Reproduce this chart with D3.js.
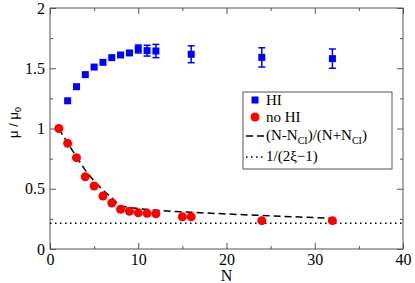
<!DOCTYPE html>
<html>
<head>
<meta charset="utf-8">
<script src="https://cdn.jsdelivr.net/npm/d3@7"></script>
<style>
  body { margin: 0; background: #fff; }
</style>
</head>
<body>
<div id="chart"></div>
<script>
// HI data (blue squares) with error bars
var hiN   = [2, 3, 4, 5, 6, 7, 8, 9, 10, 11, 12, 16, 24, 32];
var hiMu  = [1.23, 1.347, 1.447, 1.51, 1.549, 1.588, 1.61, 1.627, 1.66, 1.646, 1.643, 1.616, 1.59, 1.58];
var hiErr = [0, 0, 0, 0, 0, 0, 0.01, 0.015, 0.033, 0.045, 0.055, 0.07, 0.08, 0.08];

// no HI data (red circles)
var noN  = [1, 2, 3, 4, 5, 6, 7, 8, 9, 10, 11, 12, 15, 16, 24, 32];
var noMu = [1.0, 0.877, 0.758, 0.60, 0.523, 0.44, 0.382, 0.33, 0.313, 0.30, 0.296, 0.293, 0.268, 0.268, 0.235, 0.235];

// dashed fit (N-Ncl)/(N+Ncl)
var fitN  = [1, 2, 3, 4, 5, 6, 7, 8, 9, 10, 12, 16, 24, 32];
var fitMu = [1.0, 0.88, 0.765, 0.655, 0.565, 0.49, 0.425, 0.36, 0.345, 0.336, 0.322, 0.305, 0.278, 0.255];

// dotted limit 1/(2xi-1)
var limitMu = 0.213;

var xTicks = [0, 10, 20, 30, 40];
var yTicks = [0, 0.5, 1, 1.5, 2];

var SERIF = "'Liberation Serif', 'DejaVu Serif', serif";
var SANS = "'Liberation Sans', 'DejaVu Sans', sans-serif";

var width = 415, height = 283;
var margin = {top: 8, right: 12, bottom: 34, left: 50};

var svg = d3.select("#chart")
	.append("svg")
	.attr("width", width)
	.attr("height", height);

var x = d3.scaleLinear().domain([0, 40]).range([margin.left, width - margin.right]);
var y = d3.scaleLinear().domain([0, 2]).range([height - margin.bottom, margin.top]);

var axisColor = "#555";

// frame
svg.append("rect")
	.attr("x", x(0))
	.attr("y", y(2))
	.attr("width", x(40) - x(0))
	.attr("height", y(0) - y(2))
	.attr("fill", "none")
	.attr("stroke", axisColor)
	.attr("stroke-width", 1);

function styleAxis(g) {
	g.select(".domain").remove();
	g.selectAll(".tick line").attr("stroke", axisColor);
	g.selectAll(".tick text")
		.style("font-family", SERIF)
		.style("font-size", "16px")
		.attr("fill", "#000");
}

// bottom axis, inward ticks
svg.append("g")
	.attr("transform", "translate(0," + y(0) + ")")
	.call(d3.axisBottom(x).tickValues(xTicks).tickSize(-6).tickPadding(5).tickFormat(d3.format("d")))
	.call(styleAxis);
svg.append("g")
	.attr("transform", "translate(0," + y(0) + ")")
	.call(d3.axisBottom(x).tickValues([5, 15, 25, 35]).tickSize(-3).tickFormat(""))
	.call(styleAxis);
// top ticks
svg.append("g")
	.attr("transform", "translate(0," + y(2) + ")")
	.call(d3.axisTop(x).tickValues(xTicks).tickSize(-6).tickFormat(""))
	.call(styleAxis);
svg.append("g")
	.attr("transform", "translate(0," + y(2) + ")")
	.call(d3.axisTop(x).tickValues([5, 15, 25, 35]).tickSize(-3).tickFormat(""))
	.call(styleAxis);

// left axis
svg.append("g")
	.attr("transform", "translate(" + x(0) + ",0)")
	.call(d3.axisLeft(y).tickValues(yTicks).tickSize(-6).tickPadding(5).tickFormat(d3.format("")))
	.call(styleAxis);
svg.append("g")
	.attr("transform", "translate(" + x(0) + ",0)")
	.call(d3.axisLeft(y).tickValues([0.25, 0.75, 1.25, 1.75]).tickSize(-3).tickFormat(""))
	.call(styleAxis);
// right ticks
svg.append("g")
	.attr("transform", "translate(" + x(40) + ",0)")
	.call(d3.axisRight(y).tickValues(yTicks).tickSize(-6).tickFormat(""))
	.call(styleAxis);
svg.append("g")
	.attr("transform", "translate(" + x(40) + ",0)")
	.call(d3.axisRight(y).tickValues([0.25, 0.75, 1.25, 1.75]).tickSize(-3).tickFormat(""))
	.call(styleAxis);

// x label
svg.append("text")
	.style("font-family", SERIF)
	.style("font-size", "16px")
	.attr("x", x(20))
	.attr("y", 281)
	.attr("text-anchor", "middle")
	.text("N");

// y label
var yl = svg.append("text")
	.style("font-family", SANS)
	.style("font-size", "13px")
	.attr("transform", "translate(18," + y(1.05) + ") rotate(-90)")
	.attr("text-anchor", "middle");
yl.append("tspan").text("μ / μ");
yl.append("tspan").style("font-size", "9px").attr("dy", 3).text("0");

// dotted limit line
svg.append("line")
	.attr("x1", x(0)).attr("x2", x(40))
	.attr("y1", y(limitMu)).attr("y2", y(limitMu))
	.attr("stroke", "#000")
	.attr("stroke-width", 1.5)
	.attr("stroke-dasharray", "1.5,3.5");

// dashed fit line
var fitData = fitN.map(function(n, i) { return [n, fitMu[i]]; });
svg.append("path")
	.datum(fitData)
	.attr("fill", "none")
	.attr("stroke", "#000")
	.attr("stroke-width", 1.5)
	.attr("stroke-dasharray", "7,4")
	.attr("d", d3.line().curve(d3.curveMonotoneX)
		.x(function(d) { return x(d[0]); })
		.y(function(d) { return y(d[1]); }));

// error bars for HI
var hiData = hiN.map(function(n, i) { return {n: n, mu: hiMu[i], err: hiErr[i]}; });
var eb = svg.append("g").attr("stroke", "#0000ff").attr("stroke-width", 1.5);
hiData.filter(function(d) { return d.err > 0; }).forEach(function(d) {
	eb.append("line")
		.attr("x1", x(d.n)).attr("x2", x(d.n))
		.attr("y1", y(d.mu - d.err)).attr("y2", y(d.mu + d.err));
	eb.append("line")
		.attr("x1", x(d.n) - 3.5).attr("x2", x(d.n) + 3.5)
		.attr("y1", y(d.mu - d.err)).attr("y2", y(d.mu - d.err));
	eb.append("line")
		.attr("x1", x(d.n) - 3.5).attr("x2", x(d.n) + 3.5)
		.attr("y1", y(d.mu + d.err)).attr("y2", y(d.mu + d.err));
});

// HI squares
var sq = 7;
svg.selectAll("rect.hi")
	.data(hiData)
	.enter().append("rect")
	.attr("class", "hi")
	.attr("x", function(d) { return x(d.n) - sq / 2; })
	.attr("y", function(d) { return y(d.mu) - sq / 2; })
	.attr("width", sq)
	.attr("height", sq)
	.attr("fill", "#0000ff");

// no HI circles
var noData = noN.map(function(n, i) { return {n: n, mu: noMu[i]}; });
svg.selectAll("circle.no")
	.data(noData)
	.enter().append("circle")
	.attr("class", "no")
	.attr("cx", function(d) { return x(d.n); })
	.attr("cy", function(d) { return y(d.mu); })
	.attr("r", 4.5)
	.attr("fill", "#ff0000");

// legend
var lg = svg.append("g").style("font-family", SERIF).style("font-size", "15px");
lg.append("rect")
	.attr("x", 243).attr("y", 92)
	.attr("width", 149).attr("height", 77)
	.attr("fill", "#fff")
	.attr("stroke", axisColor)
	.attr("stroke-width", 1);

var lx = 255, tx = 266;
lg.append("rect").attr("x", lx - 3.5).attr("y", 100 - 3.5).attr("width", 7).attr("height", 7).attr("fill", "#0000ff");
lg.append("text").attr("x", tx).attr("y", 105).text("HI");

lg.append("circle").attr("cx", lx).attr("cy", 117).attr("r", 4.5).attr("fill", "#ff0000");
lg.append("text").attr("x", tx).attr("y", 122).text("no HI");

lg.append("line").attr("x1", 246).attr("x2", 264).attr("y1", 136).attr("y2", 136)
	.attr("stroke", "#000").attr("stroke-width", 1.5).attr("stroke-dasharray", "7,4");
var t3 = lg.append("text").attr("x", tx).attr("y", 140);
t3.append("tspan").text("(N-N");
t3.append("tspan").style("font-size", "10px").attr("dy", 4).text("CI");
t3.append("tspan").attr("dy", -4).text(")/(N+N");
t3.append("tspan").style("font-size", "10px").attr("dy", 4).text("CI");
t3.append("tspan").attr("dy", -4).text(")");

lg.append("line").attr("x1", 246).attr("x2", 264).attr("y1", 157).attr("y2", 157)
	.attr("stroke", "#000").attr("stroke-width", 1.5).attr("stroke-dasharray", "1.5,3.5");
lg.append("text").attr("x", tx).attr("y", 161).text("1/(2ξ−1)");
</script>
</body>
</html>
